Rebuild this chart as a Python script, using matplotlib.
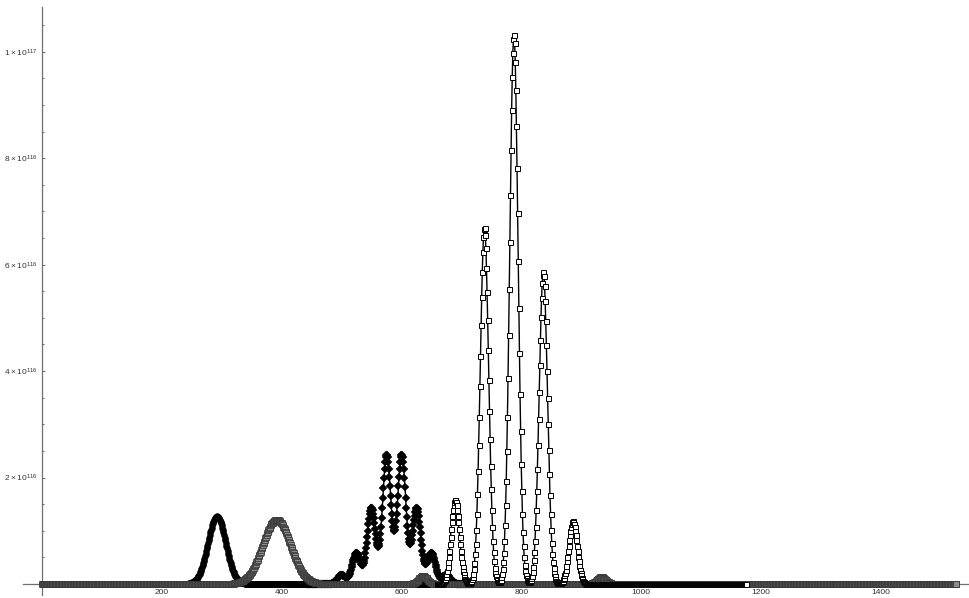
import numpy as np
import matplotlib.pyplot as plt
from matplotlib.ticker import FixedLocator, FuncFormatter

plt.rcParams['font.family'] = ['Liberation Sans', 'DejaVu Sans']
plt.rcParams['mathtext.default'] = 'regular'

# each list: index range, then peak centres / heights / widths (sigma, in index units)
circ_range = (0, 1176)
circ_centres = [292]
circ_heights = [1.27e116]
circ_widths = [15]

gray_range = (0, 1526)
gray_centres = [392, 636, 934]
gray_heights = [1.21e116, 1.5e115, 1.3e115]
gray_widths = [23, 7, 7]

diam_range = (440, 720)
diam_centres = [500, 525, 550, 575.5, 600.5, 625.5, 650, 675]
diam_heights = [1.7e115, 5.8e115, 1.43e116, 2.43e116, 2.43e116, 1.43e116, 5.8e115, 1.7e115]
diam_widths = [7, 7, 7, 7, 7, 7, 7, 7]

sq_range = (660, 1176)
sq_centres = [689.5, 738.6, 787.8, 836.9, 886]
sq_heights = [1.58e116, 6.69e116, 1.031e117, 5.86e116, 1.18e116]
sq_widths = [7, 7, 7, 7, 7]

x_major = [200, 400, 600, 800, 1000, 1200, 1400]
y_major = [2e116, 4e116, 6e116, 8e116, 1e117]


def profile(rng, centres, heights, widths):
    x = np.arange(rng[0], rng[1] + 1)
    y = np.zeros(len(x))
    for c, h, w in zip(centres, heights, widths):
        y += h * np.exp(-(x - c) ** 2 / (2.0 * w * w))
    return x, y


fig = plt.figure(figsize=(9.7, 5.98), dpi=100)
ax = fig.add_axes([0, 0, 1, 1])

x, y = profile(circ_range, circ_centres, circ_heights, circ_widths)
ax.plot(x, y, color='black', lw=1.0, marker='o', ms=4.4, mfc='black', mec='black', mew=0.3, zorder=2)

x, y = profile(diam_range, diam_centres, diam_heights, diam_widths)
ax.plot(x, y, color='black', lw=1.0, marker='D', ms=3.6, mfc='black', mec='black', mew=0.3, zorder=3)

x, y = profile(gray_range, gray_centres, gray_heights, gray_widths)
ax.plot(x, y, color='#5a5a5a', lw=0.9, marker='s', ms=3.8, mfc='#8c8c8c', mec='#2e2e2e', mew=0.5, zorder=4)

x, y = profile(sq_range, sq_centres, sq_heights, sq_widths)
ax.plot(x, y, color='black', lw=1.0, marker='s', ms=3.6, mfc='white', mec='black', mew=0.7, zorder=5)

# axes through the origin
ax.set_xlim(-70.1, 1549.2)
ax.set_ylim(-0.0263e117, 1.0971e117)
for side in ['top', 'right']:
    ax.spines[side].set_visible(False)
ax.spines['left'].set_position(('data', 0))
ax.spines['bottom'].set_position(('data', 0))
ax.spines['bottom'].set_bounds(-31.7, 1549.2)
ax.spines['left'].set_bounds(-0.0207e117, 1.084e117)
for side in ['left', 'bottom']:
    ax.spines[side].set_color('#707070')
    ax.spines[side].set_linewidth(0.9)
    ax.spines[side].set_zorder(1)

ax.xaxis.set_major_locator(FixedLocator(x_major))
ax.xaxis.set_minor_locator(FixedLocator(np.arange(50, 1550, 50)))
ax.yaxis.set_major_locator(FixedLocator(y_major))
ax.yaxis.set_minor_locator(FixedLocator(np.arange(1, 22) * 0.5e116))


def ylab(v, pos):
    e = int(np.floor(np.log10(v) + 1e-9))
    m = v / 10.0 ** e
    return r'$%d\times10^{%d}$' % (round(m), e)


ax.xaxis.set_major_formatter(FuncFormatter(lambda v, pos: '%d' % v))
ax.yaxis.set_major_formatter(FuncFormatter(ylab))
ax.tick_params(which='both', direction='in', color='#555555', width=0.6, labelsize=6, labelcolor='#333333')
ax.tick_params(which='major', length=2.5)
ax.tick_params(which='minor', length=1.5)
ax.tick_params(axis='x', pad=3.5)
ax.tick_params(axis='y', pad=3)

fig.savefig('out.png', dpi=100)
